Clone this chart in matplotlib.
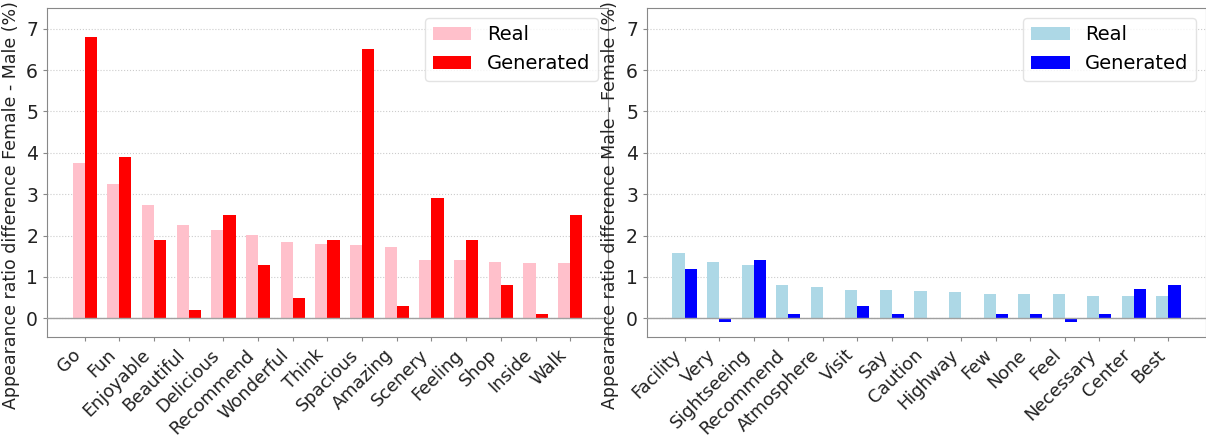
import matplotlib
matplotlib.use("Agg")

import matplotlib.pyplot as plt
import numpy as np

plt.rcParams['font.family'] = ['DejaVu Sans']

female_words = ["Go", "Fun", "Enjoyable", "Beautiful", "Delicious", "Recommend",
                "Wonderful", "Think", "Spacious", "Amazing", "Scenery", "Feeling",
                "Shop", "Inside", "Walk"]
female_real = [3.75, 3.25, 2.75, 2.26, 2.14, 2.02, 1.84, 1.80, 1.78, 1.72,
               1.40, 1.40, 1.37, 1.33, 1.33]
female_gen = [6.8, 3.9, 1.9, 0.2, 2.5, 1.3, 0.5, 1.9, 6.5, 0.3,
              2.9, 1.9, 0.8, 0.1, 2.5]

male_words = ["Facility", "Very", "Sightseeing", "Recommend", "Atmosphere", "Visit",
              "Say", "Caution", "Highway", "Few", "None", "Feel", "Necessary",
              "Center", "Best"]
male_real = [1.57, 1.35, 1.29, 0.80, 0.76, 0.69, 0.69, 0.66, 0.63, 0.59,
             0.58, 0.58, 0.55, 0.54, 0.54]
male_gen = [1.2, -0.1, 1.4, 0.1, 0.0, 0.3, 0.1, 0.0, 0.0, 0.1,
            0.1, -0.1, 0.1, 0.7, 0.8]

FS = 12.8


def draw_panel(ax, words, real, gen, c_real, c_gen, ylabel, lab_x):
    x = np.arange(len(words))
    w = 0.35
    ax.bar(x - w / 2, real, w, color=c_real, label="Real", zorder=3)
    ax.bar(x + w / 2, gen, w, color=c_gen, label="Generated", zorder=3)
    ax.axhline(0, color="#a0a0a0", linewidth=1, zorder=4)
    ax.set_ylim(-0.45, 7.5)
    ax.set_xticks(x)
    ax.set_xticklabels(words, rotation=45, ha="right", fontsize=FS)
    ax.tick_params(axis="y", labelsize=13.5)
    ax.tick_params(colors="#888888", labelcolor="#222222", length=3)
    ax.yaxis.grid(True, linestyle=":", color="#cccccc", linewidth=0.8, zorder=0)
    for s in ax.spines.values():
        s.set_color("#888888")
    ax.set_ylabel(ylabel, fontsize=12.5, color="#222222")
    ax.yaxis.set_label_coords(lab_x, 0.40)
    leg = ax.legend(loc="upper right", fontsize=14, handlelength=2.0)
    leg.get_frame().set_edgecolor("#dddddd")


fig = plt.figure(figsize=(12.06, 4.41), dpi=100)
ax1 = fig.add_axes([0.039, 0.236, 0.465, 0.746])
ax2 = fig.add_axes([0.5365, 0.236, 0.4635, 0.746])

draw_panel(ax1, female_words, female_real, female_gen, "pink", "red",
           "Appearance ratio difference Female - Male (%)", -0.048)
draw_panel(ax2, male_words, male_real, male_gen, "lightblue", "blue",
           "Appearance ratio difference Male - Female (%)", -0.05)

fig.savefig("out.png", dpi=100)
